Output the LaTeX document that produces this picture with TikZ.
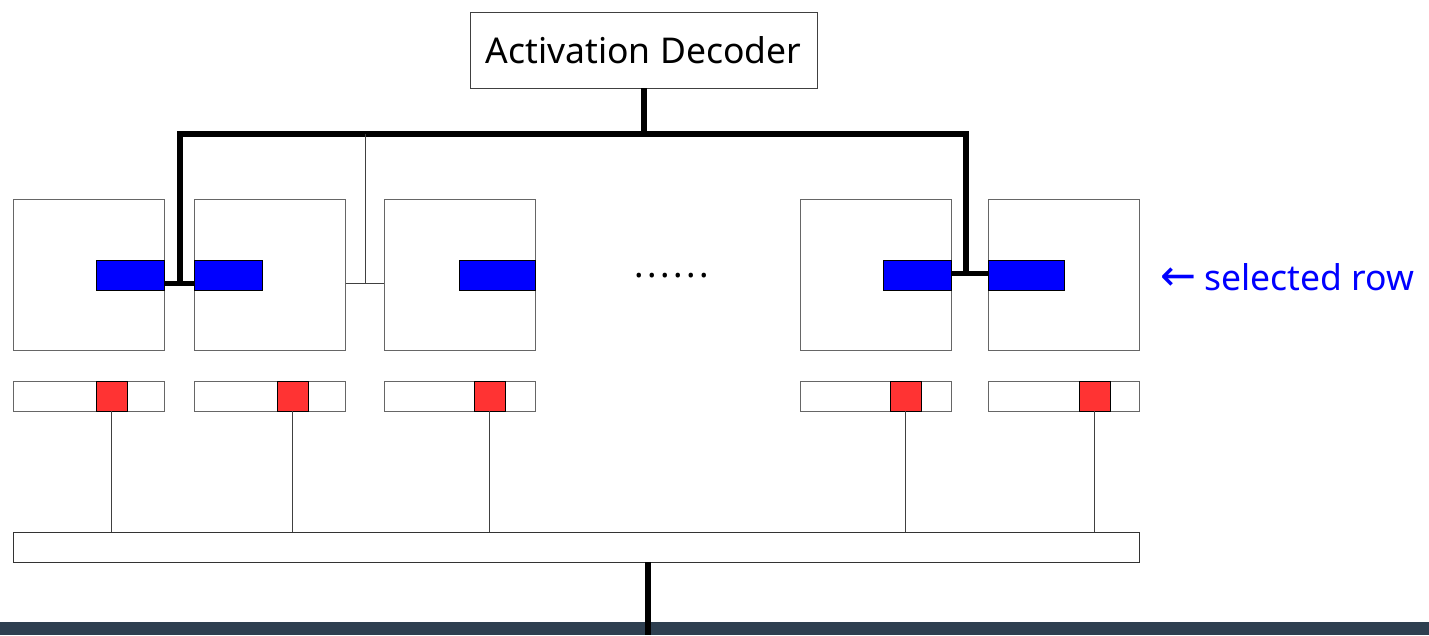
\documentclass[tikz,border=0pt]{standalone}
\usepackage{fontspec}
\setmainfont{Noto Sans}
\newfontfamily\arrowfont{DejaVu Sans}
\begin{document}
\begin{tikzpicture}[x=1pt,y=-1pt,
  frame/.style={draw=black!60, line width=0.9pt, fill=white, inner sep=0pt, outer sep=0pt},
  cell/.style={frame, minimum width=151pt, minimum height=151pt},
  rowbar/.style={draw=black, line width=0.9pt, fill=blue, inner sep=0pt, outer sep=0pt, minimum height=30pt},
  regbar/.style={frame, minimum width=151pt, minimum height=30pt},
  hit/.style={draw=black, line width=0.9pt, fill=red!80!white, inner sep=0pt, outer sep=0pt, minimum width=31pt, minimum height=30pt},
  bus/.style={line width=6pt, draw=black},
  wire/.style={line width=0.9pt, draw=black!75},
  big/.style={font=\fontsize{35.5}{40}\selectfont}]
\useasboundingbox (0,0) rectangle (1429,635);
% dark strip along the bottom edge
\fill[fill={rgb,255:red,46;green,63;blue,80}] (0,622) rectangle (1429,635);

% decoder
\node[frame, draw=black!75, minimum width=347pt, minimum height=76pt, big] (dec) at (643.5,50) {Activation Decoder};

% memory cells
\node[cell] (c1) at (88.5,274.5) {};
\node[cell] (c2) at (270,274.5) {};
\node[cell] (c3) at (459.5,274.5) {};
\node[cell] (c4) at (875.5,274.5) {};
\node[cell] (c5) at (1063.5,274.5) {};

% selected rows
\node[rowbar, minimum width=68pt] (r1) at (130,275) {};
\node[rowbar, minimum width=68pt] (r2) at (228,275) {};
\node[rowbar, minimum width=76pt] (r3) at (497,275) {};
\node[rowbar, minimum width=68pt] (r4) at (917,275) {};
\node[rowbar, minimum width=76pt] (r5) at (1026,275) {};

\node[big, anchor=base, inner sep=0pt] (dots) at (672,277) {.\kern3.5pt.\kern3.5pt.\kern3.5pt.\kern3.5pt.\kern3.5pt.};
\node[anchor=base west, inner sep=0pt, text=blue, big] (lbl) at (1160,290) {{\arrowfont\fontsize{43}{40}\selectfont ←}\kern-1pt\ selected row};

% row buffers
\node[regbar] (g1) at (88.5,396) {};
\node[regbar] (g2) at (270,396) {};
\node[regbar] (g3) at (459.5,396) {};
\node[regbar] (g4) at (875.5,396) {};
\node[regbar] (g5) at (1063.5,396) {};
\node[hit] (h1) at (111.5,396) {};
\node[hit] (h2) at (292.5,396) {};
\node[hit] (h3) at (489.5,396) {};
\node[hit] (h4) at (905.5,396) {};
\node[hit] (h5) at (1094.5,396) {};

% output bus
\node[regbar, draw=black!80, minimum width=1126pt] (out) at (576,547) {};

% word-line wiring
\coordinate (busY) at (0,134);
\coordinate (tapL) at (180,283);
\coordinate (tapR) at (966,273);
\coordinate (tapM) at (365,283);
\draw[bus] (dec.south) -- (dec.south |- busY);
\draw[bus] (tapL) |- (tapR |- busY) -- (tapR);
\draw[bus, line width=5pt] (r1.east |- tapL) -- (r2.west |- tapL);
\draw[bus, line width=5pt] (r4.east |- tapR) -- (r5.west |- tapR);
\draw[wire] (tapM |- busY) -- (tapM);
\draw[wire] (c2.east |- tapM) -- (c3.west |- tapM);

% read-out lines
\foreach \i in {1,...,5} \draw[wire] (h\i.south) -- (h\i.south |- out.north);
\draw[bus] (out.south -| 648,0) -- (648,635);
\end{tikzpicture}
\end{document}
